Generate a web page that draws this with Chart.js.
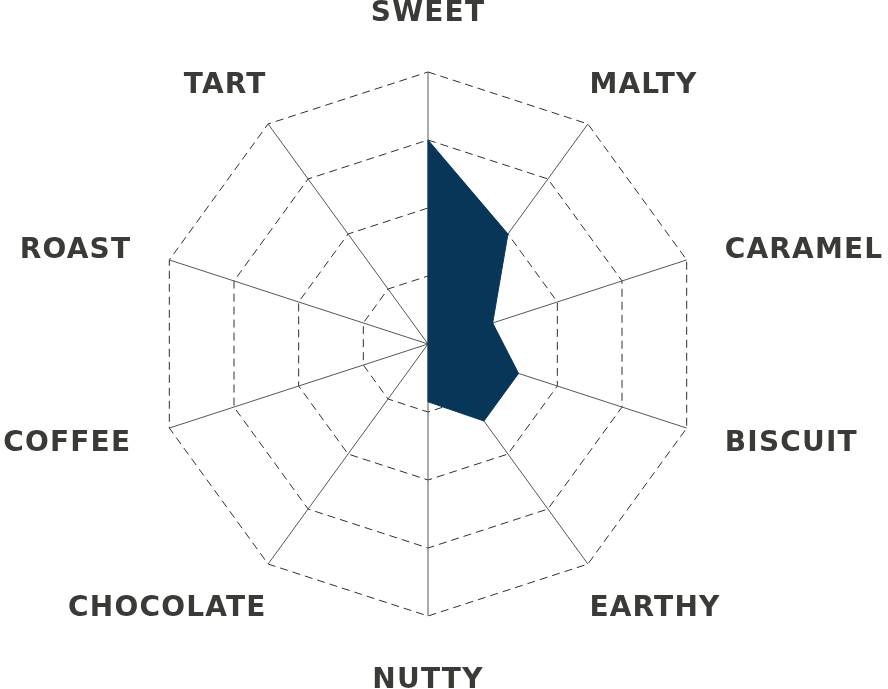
<!DOCTYPE html>
<html>
<head>
<meta charset="utf-8">
<script src="https://cdn.jsdelivr.net/npm/chart.js@4/dist/chart.umd.min.js"></script>
<style>
  html, body { margin: 0; padding: 0; background: #ffffff; }
  #wrap { width: 888px; height: 689px; }
</style>
</head>
<body>
<div id="wrap"><canvas id="c" width="888" height="689"></canvas></div>
<script>
const categories = ['SWEET', 'MALTY', 'CARAMEL', 'BISCUIT', 'EARTHY', 'NUTTY', 'CHOCOLATE', 'COFFEE', 'ROAST', 'TART'];
const flavourValues = [3, 2, 1, 1.4, 1.4, 0.85, 0, 0, 0, 0];
const scaleMax = 4;
const scaleStep = 1;

const LABEL_FONT = 'bold 28px "DejaVu Sans"';
const LABEL_COLOR = '#3a3a37';
const LABEL_GAP = 40;

// Draws the category labels around the radar, anchored on the scale's own point positions.
const categoryLabels = {
  id: 'categoryLabels',
  afterDraw(chart) {
    const scale = chart.scales.r;
    const ctx = chart.ctx;
    ctx.save();
    ctx.font = LABEL_FONT;
    ctx.fillStyle = LABEL_COLOR;
    ctx.letterSpacing = '1.2px';
    ctx.textBaseline = 'alphabetic';
    const capH = ctx.measureText('H').actualBoundingBoxAscent;
    chart.data.labels.forEach((label, i) => {
      const p = scale.getPointPosition(i, scale.drawingArea + LABEL_GAP);
      const cx = Math.cos(p.angle), cy = Math.sin(p.angle);
      let x = p.x, yc = p.y, align;
      if (Math.abs(cx) < 0.01) {
        align = 'center';
        yc = p.y + Math.sign(cy) * 21.5;
      } else if (Math.abs(cy) < 0.5) {
        align = cx > 0 ? 'left' : 'right';
      } else {
        align = cx > 0 ? 'left' : 'right';
        x = p.x - Math.sign(cx) * 22;
        yc = p.y + Math.sign(cy) * 9.5;
      }
      ctx.textAlign = align;
      ctx.fillText(label, x, yc + capH / 2);
    });
    ctx.restore();
  }
};

new Chart(document.getElementById('c'), {
  type: 'radar',
  data: {
    labels: categories,
    datasets: [{
      data: flavourValues,
      backgroundColor: '#073658',
      borderColor: '#073658',
      borderWidth: 1,
      pointRadius: 0,
      fill: true
    }]
  },
  options: {
    responsive: false,
    animation: false,
    devicePixelRatio: 1,
    layout: { padding: { top: 72, bottom: 72, left: 0, right: 31 } },
    plugins: { legend: { display: false }, tooltip: { enabled: false } },
    scales: {
      r: {
        min: 0,
        max: scaleMax,
        ticks: { display: false, stepSize: scaleStep },
        angleLines: { color: '#555555', lineWidth: 1 },
        grid: { color: '#2f2f2f', lineWidth: 1, circular: false },
        border: { dash: [8, 5] },
        pointLabels: { display: false }
      }
    }
  },
  plugins: [categoryLabels]
});
</script>
</body>
</html>
